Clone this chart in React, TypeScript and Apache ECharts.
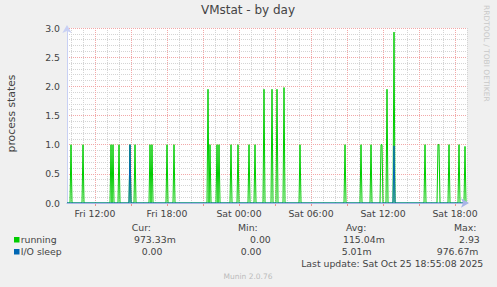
import React, { useEffect, useRef } from "react";
import * as echarts from "echarts";

// 5-minute slots, Fri 09:40 .. Sat 19:00
const SLOT_COUNT = 401;
const START_MINUTE = 9 * 60 + 40;
const DAY_NAMES = ["Fri", "Sat"];
const FIRST_LABEL_SLOT = 28; // Fri 12:00

// [slot, value] spikes
const RUNNING_SPIKES: [number, number][] = [
  [4, 1.0], [16, 1.0], [44, 1.0], [46, 1.0], [52, 1.0], [63, 1.0], [68, 1.0],
  [83, 1.0], [85, 1.0], [100, 1.0], [107, 1.0], [141, 1.95], [143, 1.0],
  [150, 1.0], [152, 1.0], [164, 1.0], [171, 1.0], [182, 1.0], [188, 1.0],
  [197, 1.95], [205, 1.95], [210, 1.95], [217, 1.98], [233, 1.0], [278, 1.0],
  [294, 1.0], [304, 1.0], [314, 1.0], [315, 1.0], [320, 1.95], [327, 2.93],
  [358, 1.0], [371, 1.0], [372, 1.0], [382, 1.0], [392, 1.0], [398, 0.97],
];
const IOSLEEP_SPIKES: [number, number][] = [
  [63, 1.0], [327, 0.98],
];

const SERIES_NAMES = ["running", "I/O sleep"];
const SERIES_COLORS = ["#00cc00", "#0066b3"];
const LEGEND_HEADERS = ["Cur:", "Min:", "Avg:", "Max:"];
const RUNNING_STATS = ["973.33m", "0.00", "115.04m", "2.93"];
const IOSLEEP_STATS = ["0.00", "0.00", "5.01m", "976.67m"];
const LAST_UPDATE = "Last update: Sat Oct 25 18:55:08 2025";

function slotLabel(i: number): string {
  const m = START_MINUTE + i * 5;
  const d = Math.floor(m / 1440);
  const hh = Math.floor((m % 1440) / 60);
  const mm = m % 60;
  return `${DAY_NAMES[d]} ${String(hh).padStart(2, "0")}:${String(mm).padStart(2, "0")}`;
}

const CATEGORIES = Array.from({ length: SLOT_COUNT }, (_, i) => slotLabel(i));

function buildSeries(spikes: [number, number][]): number[] {
  const arr = new Array(SLOT_COUNT).fill(0);
  spikes.forEach(([i, v]) => { arr[i] = v; });
  return arr;
}

const FONT = "DejaVu Sans";
const FS = 9.33;

export default function App() {
  const ref = useRef<HTMLDivElement>(null);
  useEffect(() => {
    if (!ref.current) return;
    const chart = echarts.init(ref.current, null, { renderer: "svg" });
    const isMajor = (i: number) => (i - FIRST_LABEL_SLOT) % 36 === 0;
    const isHour = (i: number) => (i - FIRST_LABEL_SLOT) % 12 === 0;
    const isLabel = (i: number) => (i - FIRST_LABEL_SLOT) % 72 === 0;

    const colX = {
      run: [134, 250, 343, 459],
      io: [141.7, 240.7, 341.7, 436.7],
      head: [131.7, 238, 346, 454],
    };
    const txt = (x: number, y: number, s: string, extra: any = {}) => ({
      type: "text",
      x, y,
      style: {
        text: s, fill: "#444", font: `${FS}px "${FONT}"`,
        textAlign: "left", textVerticalAlign: "middle", ...extra,
      },
    });
    const graphics: any[] = [
      {
        type: "text", x: 248, y: 10,
        style: { text: "VMstat - by day", fill: "#444", font: `12px "${FONT}"`, textAlign: "center", textVerticalAlign: "middle" },
      },
      {
        type: "text", x: 11.5, y: 113.5, rotation: Math.PI / 2,
        style: { text: "process states", fill: "#444", font: `10.8px "${FONT}"`, textAlign: "center", textVerticalAlign: "middle" },
      },
      {
        type: "text", x: 486, y: 5, rotation: -Math.PI / 2,
        style: { text: "RRDTOOL / TOBI OETIKER", fill: "#c8c8c8", font: `7.5px "${FONT}"`, textAlign: "left", textVerticalAlign: "middle" },
      },
      ...LEGEND_HEADERS.map((h, k) => txt(colX.head[k], 227.5, h)),
      { type: "rect", shape: { x: 14, y: 237, width: 5.5, height: 5.5 }, style: { fill: SERIES_COLORS[0] } },
      txt(20.7, 239.7, SERIES_NAMES[0]),
      ...RUNNING_STATS.map((s, k) => txt(colX.run[k], 239.7, s)),
      { type: "rect", shape: { x: 14, y: 249, width: 5.5, height: 5.5 }, style: { fill: SERIES_COLORS[1] } },
      txt(20.7, 251.9, SERIES_NAMES[1]),
      ...IOSLEEP_STATS.map((s, k) => txt(colX.io[k], 251.9, s)),
      txt(483.3, 263.6, LAST_UPDATE, { textAlign: "right" }),
      {
        type: "text", x: 248, y: 276,
        style: { text: "Munin 2.0.76", fill: "#bbbbbb", font: `7.5px "${FONT}"`, textAlign: "center", textVerticalAlign: "middle" },
      },
    ];

    chart.setOption({
      animation: false,
      backgroundColor: "#f0f0f0",
      textStyle: { fontFamily: FONT },
      grid: { left: 67, top: 28, width: 400, height: 175, show: true, backgroundColor: "#ffffff", borderWidth: 0 },
      xAxis: [
        {
          type: "category", data: CATEGORIES, boundaryGap: false,
          axisLine: { show: false },
          axisTick: { show: true, interval: (i: number) => isMajor(i), length: 3, lineStyle: { color: "#f09090" } },
          axisLabel: { interval: (i: number) => isLabel(i), color: "#444", fontSize: FS, fontFamily: FONT, margin: 6 },
          splitLine: { show: true, interval: (i: number) => isMajor(i), lineStyle: { color: "#f2a8a8", type: [1, 1], width: 1 } },
          z: 1,
        },
        {
          type: "category", data: CATEGORIES, boundaryGap: false, position: "bottom",
          axisLine: { show: false }, axisTick: { show: false }, axisLabel: { show: false },
          splitLine: { show: true, interval: (i: number) => isHour(i) && !isMajor(i), lineStyle: { color: "#d4d4d4", type: [1, 1], width: 1 } },
          z: 0,
        },
        {
          type: "category", data: CATEGORIES, boundaryGap: false, position: "bottom",
          axisLine: { show: true, symbol: ["none", "arrow"], symbolSize: [7, 8], symbolOffset: [0, 2], lineStyle: { color: "#a8b4e6", width: 1 } },
          axisTick: { show: false }, axisLabel: { show: false }, splitLine: { show: false },
          z: 5,
        },
      ],
      yAxis: [
        {
          type: "value", min: 0, max: 3, interval: 0.5,
          axisLine: { show: true, symbol: ["none", "arrow"], symbolSize: [7, 8], symbolOffset: [0, 3], lineStyle: { color: "#c8d0f4", width: 1 } },
          axisTick: { show: false },
          axisLabel: { color: "#444", fontSize: FS, fontFamily: FONT, margin: 7, formatter: (v: number) => v.toFixed(1) },
          splitLine: { show: true, lineStyle: { color: "#f2a8a8", type: [1, 1], width: 1 } },
          minorTick: { show: false, splitNumber: 5 },
          minorSplitLine: { show: true, lineStyle: { color: "#d4d4d4", type: [1, 1], width: 1 } },
          z: 1,
        },
      ],
      series: [
        {
          name: SERIES_NAMES[0], type: "line", data: buildSeries(RUNNING_SPIKES),
          symbol: "none", silent: true, lineStyle: { color: SERIES_COLORS[0], width: 1 }, z: 3,
        },
        {
          name: SERIES_NAMES[1], type: "line", data: buildSeries(IOSLEEP_SPIKES),
          symbol: "none", silent: true, lineStyle: { color: SERIES_COLORS[1], width: 1 }, z: 4,
        },
      ],
      graphic: graphics,
    });
    return () => chart.dispose();
  }, []);
  return <div ref={ref} style={{ position: "fixed", left: 0, top: 0, width: 497, height: 287 }} />;
}
